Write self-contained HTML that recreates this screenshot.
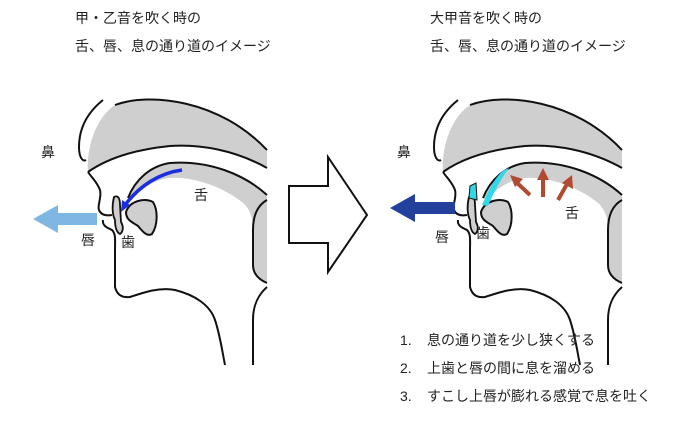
<!DOCTYPE html>
<html><head><meta charset="utf-8"><style>
html,body{margin:0;padding:0;background:#fff;width:700px;height:428px;overflow:hidden}
text{font-family:"Liberation Sans","Noto Sans CJK JP",sans-serif;fill:#222}
</style></head><body>
<svg width="700" height="428" viewBox="0 0 700 428" xmlns="http://www.w3.org/2000/svg">
<defs>
<g id="head">
  <path d="M115,105 C150,92 220,100 267,150 L267,168 C235,150 200,144 170,146 C130,150 105,160 88,172 C86,150 95,118 115,105 Z" fill="#cfcfcf" stroke="none"/>
  <path d="M115,105 C150,92 220,100 267,150" fill="none" stroke="#111" stroke-width="2"/>
  <path d="M88,172 C105,160 130,150 170,146 C200,144 235,150 267,168" fill="none" stroke="#111" stroke-width="2"/>
  <path d="M103,100 C88,112 79,128 79,147 C79,158 83,162 86,160" fill="none" stroke="#111" stroke-width="2"/>
  <path d="M128,198 C135,180 150,166 170,163 C210,160 245,175 267,195 L267,283 C260,280 253,275 253,265 L253,230 C253,215 248,207 242,202 C220,185 190,176 168,178 C152,181 140,190 132,200 Z" fill="#cfcfcf"/>
  <path d="M128,198 C135,180 150,166 170,163 C210,160 245,175 267,195" fill="none" stroke="#111" stroke-width="2"/>
  <path d="M267,283 C260,280 253,275 253,265 L253,230 C253,215 258,205 267,200" fill="none" stroke="#111" stroke-width="2"/>
  <path d="M88,172 C92,178 97,182 100,190 C102,198 97,205 99,210 C101,215 106,216 112,215" fill="none" stroke="#111" stroke-width="2"/>
  <path d="M103,220 C102,226 108,228 112,230 C116,234 115,240 115,250 L115,287 C117,295 122,298 130,297 C145,292 160,287 175,290 C195,295 210,305 215,320 C220,335 222,350 225,365" fill="none" stroke="#111" stroke-width="2"/>
  <path d="M267,287 C258,295 253,305 253,320 L253,365" fill="none" stroke="#111" stroke-width="2"/>
  <path d="M114,197 C118,195 120,198 120,205 L121,222 C124,227 123,232 120,234 C116,232 115,226 115,220 C112,214 112,205 114,197 Z" fill="#cfcfcf" stroke="#111" stroke-width="1.8"/>
  <path d="M126,212 C130,200 145,198 153,202 C158,210 158,225 152,234 C147,237 143,232 138,226 C132,222 126,220 126,212 Z" fill="#cfcfcf" stroke="#111" stroke-width="2"/>
</g>
</defs>
<g font-size="14">
<text x="75" y="23">甲・乙音を吹く時の</text>
<text x="75" y="51">舌、唇、息の通り道のイメージ</text>
<text x="430" y="23">大甲音を吹く時の</text>
<text x="430" y="51">舌、唇、息の通り道のイメージ</text>
</g>

<use href="#head"/>
<g transform="translate(355,0)"><use href="#head"/></g>

<path d="M182,170 C160,173 140,185 125,205" fill="none" stroke="#1a2ee0" stroke-width="3.5"/>
<path d="M121,212 L122,200 L130,205 Z" fill="#1a2ee0"/>
<path d="M33,219 L58,205 L58,213 L97,213 L97,225 L58,225 L58,233 Z" fill="#7db7e2"/>
<path d="M470,186 L476,183 L477,200 L469,198 Z" fill="#30d8e8" stroke="#111" stroke-width="1"/>
<path d="M482,205 C488,192 494,178 504,170 L509,168 C500,180 493,194 488,206 Z" fill="#30d8e8"/>
<g stroke="#b04a30" stroke-width="4" fill="#b04a30">
<line x1="530" y1="195" x2="515" y2="181"/><path d="M510,175 L523,179 L515,187 Z" stroke="none"/>
<line x1="543" y1="197" x2="543" y2="178"/><path d="M543,168 L549,180 L537,180 Z" stroke="none"/>
<line x1="558" y1="200" x2="567" y2="184"/><path d="M572,175 L573,189 L562,183 Z" stroke="none"/>
</g>
<path d="M390,208 L415,194 L415,202 L455,202 L455,214 L415,214 L415,222 Z" fill="#23409c"/>
<path d="M289,186 L328,186 L328,157 L367,215 L328,272 L328,243 L289,243 Z" fill="#fff" stroke="#111" stroke-width="2"/>

<g font-size="14">
<text x="41" y="157">鼻</text>
<text x="81" y="245">唇</text>
<text x="121" y="247">歯</text>
<text x="194" y="200">舌</text>
<text x="397" y="157">鼻</text>
<text x="435" y="242">唇</text>
<text x="476" y="238">歯</text>
<text x="565" y="218">舌</text>
<text x="400" y="345">1.</text><text x="427" y="345">息の通り道を少し狭くする</text>
<text x="400" y="373">2.</text><text x="427" y="373">上歯と唇の間に息を溜める</text>
<text x="400" y="401">3.</text><text x="427" y="401">すこし上唇が膨れる感覚で息を吐く</text>
</g>
</svg>
</body></html>
